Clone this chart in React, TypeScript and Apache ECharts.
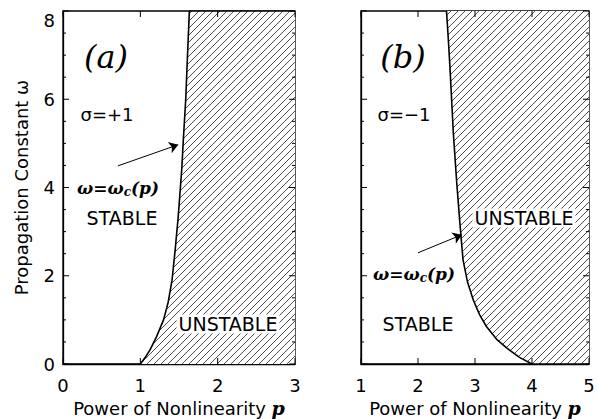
import React, { useEffect, useRef } from 'react';
import * as echarts from 'echarts';

// Panel (a): sigma = +1, critical curve omega_c(p)
const curveA: number[][] = [
  [1.0, 0], [1.06, 0.14], [1.125, 0.32], [1.21, 0.62], [1.3, 1.0], [1.36, 1.4],
  [1.41, 1.9], [1.45, 2.58], [1.49, 3.34], [1.535, 4.4], [1.556, 5.08],
  [1.587, 6], [1.61, 7], [1.634, 8],
];
const closeA: number[][] = [[3, 8]];
// Panel (b): sigma = -1
const curveB: number[][] = [
  [2.5, 8], [2.53, 7.4], [2.56, 6.74], [2.62, 5.23], [2.68, 4.1], [2.74, 3.11],
  [2.79, 2.36], [2.87, 1.85], [2.97, 1.45], [3.08, 1.12], [3.2, 0.85],
  [3.38, 0.56], [3.56, 0.36], [3.78, 0.15], [4.0, 0],
];
const closeB: number[][] = [[5, 0]];

const xTicksA = [0, 1, 2, 3];
const xTicksB = [1, 2, 3, 4, 5];
const yMajor = [0, 2, 4, 6, 8];
const yMinor = [0.5, 1, 1.5, 2.5, 3, 3.5, 4.5, 5, 5.5, 6.5, 7, 7.5];

const arrowA = [[0.71, 4.49], [1.49, 4.97]];
const arrowB = [[2.0, 2.52], [2.77, 2.93]];

function makeHatch(): HTMLCanvasElement {
  const s = 7;
  const c = document.createElement('canvas');
  c.width = s; c.height = s;
  const ctx = c.getContext('2d')!;
  ctx.fillStyle = '#ffffff';
  ctx.fillRect(0, 0, s, s);
  ctx.strokeStyle = '#3a3a3a';
  ctx.lineWidth = 0.9;
  ctx.beginPath();
  ctx.moveTo(-1, s + 1); ctx.lineTo(s + 1, -1);
  ctx.moveTo(-1, 1); ctx.lineTo(1, -1);
  ctx.moveTo(s - 1, s + 1); ctx.lineTo(s + 1, s - 1);
  ctx.stroke();
  return c;
}

const SANS = 'DejaVu Sans';
const SERIF = 'DejaVu Serif';

export default function App() {
  const ref = useRef<HTMLDivElement>(null);
  useEffect(() => {
    const chart = echarts.init(ref.current!, undefined, { renderer: 'svg' });
    const pattern: any = { image: makeHatch(), repeat: 'repeat', imageWidth: 7, imageHeight: 7 };
    const ln = () => ({ show: true, onZero: false, lineStyle: { color: '#000', width: 1.3 } });
    const nameStyle = {
      color: '#000', fontFamily: SANS, fontSize: 18,
      rich: { p: { fontFamily: SERIF, fontStyle: 'italic', fontWeight: 'bold', fontSize: 19, color: '#000' } },
    };
    const xAxis = (gi: number, ticks: number[]) => ({
      type: 'value', gridIndex: gi,
      min: ticks[0], max: ticks[ticks.length - 1], interval: 1,
      axisLine: ln(), axisTick: { show: false },
      axisLabel: { margin: 12, color: '#000', fontFamily: SANS, fontSize: 18 },
      splitLine: { show: false },
      name: 'Power of Nonlinearity {p|p}', nameLocation: 'middle', nameGap: 34, nameTextStyle: nameStyle,
    });
    const yAxis = (gi: number) => ({
      type: 'value', gridIndex: gi, min: yMajor[0], max: yMajor[yMajor.length - 1], interval: 2,
      axisLine: ln(), axisTick: { show: false },
      axisLabel: { show: gi === 0, margin: 8, color: '#000', fontFamily: SANS, fontSize: 18, verticalAlignMaxLabel: 'top' },
      splitLine: { show: false },
      name: gi === 0 ? 'Propagation Constant ω' : '', nameLocation: 'middle', nameGap: 33,
      nameTextStyle: { color: '#000', fontFamily: SANS, fontSize: 18 },
    });
    const arrowLine = (a: number[][]) => ({
      silent: true, symbol: ['none', 'arrow'], symbolSize: 9,
      lineStyle: { color: '#000', width: 1, type: 'solid' }, itemStyle: { color: '#000' },
      label: { show: false }, emphasis: { disabled: true },
      data: [[{ coord: a[0] }, { coord: a[1] }]],
    });

    chart.setOption({
      animation: false,
      grid: [
        { left: 63, top: 11, width: 232, height: 353, show: true, borderColor: '#000', borderWidth: 1.3, backgroundColor: 'transparent', outerBoundsMode: 'none' },
        { left: 361, top: 11, width: 228, height: 353, show: true, borderColor: '#000', borderWidth: 1.3, backgroundColor: 'transparent', outerBoundsMode: 'none' },
      ],
      xAxis: [xAxis(0, xTicksA), xAxis(1, xTicksB)],
      yAxis: [yAxis(0), yAxis(1)],
      series: [
        { type: 'line', xAxisIndex: 0, yAxisIndex: 0, data: [...curveA, ...closeA], showSymbol: false, symbol: 'none',
          lineStyle: { color: '#000', width: 1.6 }, areaStyle: { color: pattern, opacity: 1, origin: 'start' }, markLine: arrowLine(arrowA) },
        { type: 'line', xAxisIndex: 1, yAxisIndex: 1, data: [...curveB, ...closeB], showSymbol: false, symbol: 'none',
          lineStyle: { color: '#000', width: 1.6 }, areaStyle: { color: pattern, opacity: 1, origin: 'end' }, markLine: arrowLine(arrowB) },
      ],
    });

    // Tick marks on all four sides, positioned through the chart's own scales.
    const tickEls: any[] = [];
    const seg = (x1: number, y1: number, x2: number, y2: number) => ({
      type: 'line', silent: true, z: 50,
      shape: { x1, y1, x2, y2 },
      style: { stroke: '#000', lineWidth: 1 },
    });
    const panels = [{ gi: 0, xt: xTicksA }, { gi: 1, xt: xTicksB }];
    panels.forEach(({ gi, xt }) => {
      const xMin = xt[0];
      const xMax = xt[xt.length - 1];
      const yMin = yMajor[0];
      const yMax = yMajor[yMajor.length - 1];
      const finder = { gridIndex: gi };
      const top = (chart.convertToPixel(finder, [xMin, yMax]) as number[])[1];
      const bottom = (chart.convertToPixel(finder, [xMin, yMin]) as number[])[1];
      const left = (chart.convertToPixel(finder, [xMin, yMin]) as number[])[0];
      const right = (chart.convertToPixel(finder, [xMax, yMin]) as number[])[0];
      xt.forEach((v) => {
        const px = (chart.convertToPixel(finder, [v, yMin]) as number[])[0];
        tickEls.push(seg(px, bottom, px, bottom - 6));
        tickEls.push(seg(px, top, px, top + 6));
      });
      yMajor.forEach((v) => {
        const py = (chart.convertToPixel(finder, [xMin, v]) as number[])[1];
        tickEls.push(seg(left, py, left + 6, py));
        tickEls.push(seg(right, py, right - 6, py));
      });
      yMinor.forEach((v) => {
        const py = (chart.convertToPixel(finder, [xMin, v]) as number[])[1];
        tickEls.push(seg(left, py, left + 3, py));
        tickEls.push(seg(right, py, right - 3, py));
      });
    });

    const txt = (x: number, y: number, text: string, style: any) => ({
      type: 'text', x, y, silent: true, z: 100,
      style: { text, fill: '#000', align: 'center', verticalAlign: 'middle', ...style },
    });
    const omegaRich = {
      a: { fontFamily: SERIF, fontStyle: 'italic', fontWeight: 'bold', fontSize: 17, color: '#000' },
      s: { fontFamily: SERIF, fontStyle: 'italic', fontWeight: 'bold', fontSize: 12, color: '#000', padding: [7, 0, 0, 0] },
    };

    chart.setOption({
      graphic: [
        ...tickEls,
        txt(106, 57, '(a)', { font: `italic 32px "${SERIF}"` }),
        txt(403, 57, '(b)', { font: `italic 32px "${SERIF}"` }),
        txt(107, 114, 'σ=+1', { font: `18px "${SANS}"` }),
        txt(404, 114, 'σ=−1', { font: `18px "${SANS}"` }),
        { type: 'text', x: 118, y: 188, silent: true, z: 100, style: { text: '{a|ω=ω}{s|c}{a|(p)}', rich: omegaRich, align: 'center', verticalAlign: 'middle' } },
        { type: 'text', x: 414, y: 274, silent: true, z: 100, style: { text: '{a|ω=ω}{s|c}{a|(p)}', rich: omegaRich, align: 'center', verticalAlign: 'middle' } },
        txt(122, 218, 'STABLE', { font: `19px "${SANS}"` }),
        txt(418, 324, 'STABLE', { font: `19px "${SANS}"` }),
        txt(228, 324, 'UNSTABLE', { font: `19px "${SANS}"`, backgroundColor: '#fff', padding: [0, 2] }),
        txt(524, 218, 'UNSTABLE', { font: `19px "${SANS}"`, backgroundColor: '#fff', padding: [0, 2] }),
      ],
    });
    return () => chart.dispose();
  }, []);
  return <div ref={ref} style={{ position: 'fixed', left: 0, top: 0, width: 597, height: 419, background: '#fff' }} />;
}
